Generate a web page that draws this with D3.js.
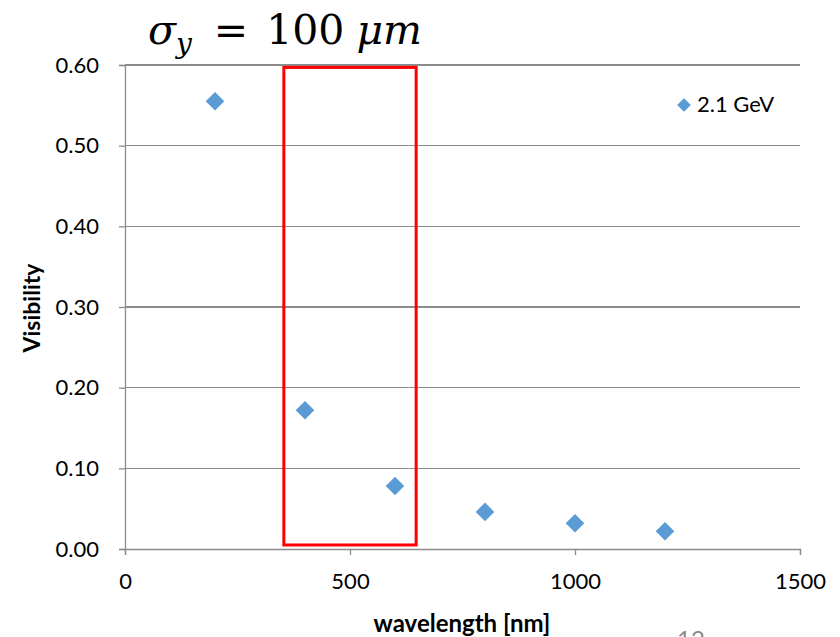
<!DOCTYPE html>
<html><head><meta charset="utf-8">
<script src="https://cdn.jsdelivr.net/npm/d3@7"></script>
<style>body{margin:0;background:#fff;} svg{display:block;}</style>
</head><body>
<script>
const wavelengths = [200, 400, 600, 800, 1000, 1200];
const visibility = [0.555, 0.172, 0.078, 0.046, 0.032, 0.022];
const seriesName = "2.1 GeV";
const xTicks = [0, 500, 1000, 1500];
const yTicks = [0, 0.1, 0.2, 0.3, 0.4, 0.5, 0.6];
const highlight = {x0: 353, x1: 647, y0: 0.005, y1: 0.597};

const W = 840, H = 637;
const svg = d3.select("body").append("svg").attr("width", W).attr("height", H);
const font = "Lato, 'Open Sans', sans-serif";
const x = d3.scaleLinear().domain([0, 1500]).range([125, 800]);
const y = d3.scaleLinear().domain([0, 0.6]).range([549, 65]);
const grid = "#8c8c8c";

// gridlines
svg.append("g").selectAll("line").data(yTicks.slice(1)).join("line")
  .attr("x1", x(0)).attr("x2", x(1500)).attr("y1", d => y(d)).attr("y2", d => y(d))
  .attr("stroke", grid).attr("stroke-width", 1.3).attr("shape-rendering","crispEdges");

// y axis
const ya = svg.append("g").attr("transform", `translate(${x(0)},0)`)
  .call(d3.axisLeft(y).tickValues(yTicks).tickFormat(d3.format(".2f")).tickSize(6).tickPadding(20));
ya.select(".domain").attr("stroke", grid).attr("stroke-width", 1.3);
ya.selectAll(".tick line").attr("stroke", grid).attr("stroke-width", 1.3);
ya.selectAll(".tick text").attr("font-family", font).attr("font-size", 22).attr("fill", "#000");

// x axis
const xa = svg.append("g").attr("transform", `translate(0,${y(0)})`)
  .call(d3.axisBottom(x).tickValues(xTicks).tickFormat(d3.format("d")).tickSize(6).tickPadding(18));
xa.select(".domain").attr("stroke", grid).attr("stroke-width", 1.3);
xa.selectAll(".tick line").attr("stroke", grid).attr("stroke-width", 1.3);
xa.selectAll(".tick text").attr("font-family", font).attr("font-size", 22).attr("fill", "#000");

// red highlight rectangle
svg.append("rect")
  .attr("x", x(highlight.x0)).attr("y", y(highlight.y1))
  .attr("width", x(highlight.x1) - x(highlight.x0)).attr("height", y(highlight.y0) - y(highlight.y1))
  .attr("fill", "none").attr("stroke", "#ff0000").attr("stroke-width", 3);

// points
const diamond = d3.symbol().type(d3.symbolDiamond2).size(220);
svg.append("g").selectAll("path").data(wavelengths.map((w, i) => [w, visibility[i]])).join("path")
  .attr("d", diamond).attr("transform", d => `translate(${x(d[0])},${y(d[1])})`)
  .attr("fill", "#5b9bd5");

// legend
svg.append("path").attr("d", d3.symbol().type(d3.symbolDiamond2).size(120))
  .attr("transform", "translate(684,105)").attr("fill", "#5b9bd5");
svg.append("text").attr("x", 697).attr("y", 112).attr("font-family", font).attr("font-size", 22)
  .text(seriesName);

// axis titles
svg.append("text").attr("x", 462).attr("y", 632).attr("text-anchor", "middle")
  .attr("font-family", font).attr("font-weight", "bold").attr("font-size", 24).text("wavelength [nm]");
svg.append("text").attr("transform", "translate(40,308) rotate(-90)").attr("text-anchor", "middle")
  .attr("font-family", font).attr("font-weight", "bold").attr("font-size", 23).text("Visibility");

// title (math)
const t = svg.append("text").attr("x", 148).attr("y", 44).attr("font-family", "'DejaVu Serif', 'Liberation Serif', serif")
  .attr("font-size", 41).attr("fill", "#000");
t.append("tspan").attr("font-style", "italic").text("σ");
t.append("tspan").attr("font-style", "italic").attr("font-size", 28).attr("dy", 9).text("y");
t.append("tspan").attr("dy", -9).attr("dx", 22).text("=");
t.append("tspan").attr("dx", 18).text("100");
t.append("tspan").attr("dx", 12).attr("font-style", "italic").text("μm");

// slide number (cut off)
svg.append("text").attr("x", 691).attr("y", 648).attr("text-anchor", "middle")
  .attr("font-family", font).attr("font-size", 24).attr("fill", "#8a8a8a").text("12");
</script>
</body></html>
